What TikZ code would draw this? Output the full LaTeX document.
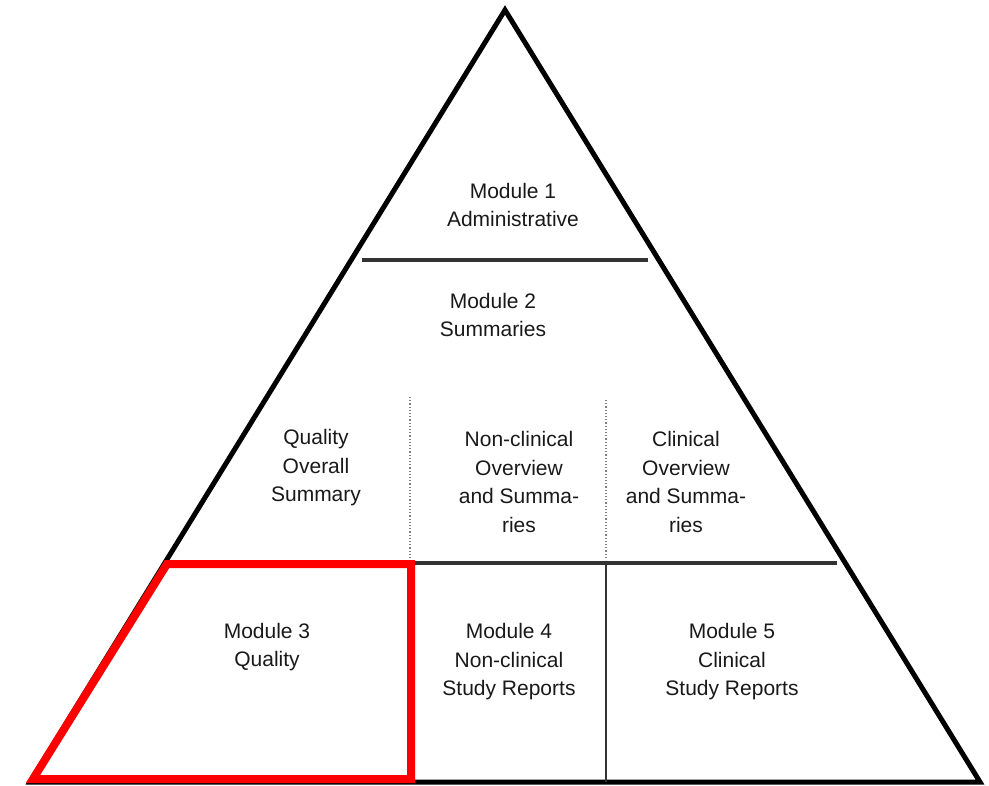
\documentclass[tikz,border=0pt]{standalone}
\usepackage{fontspec}
\setmainfont{Liberation Sans}
\begin{document}
\begin{tikzpicture}[x=1pt,y=-1pt,
  lbl/.style={align=center, inner sep=0pt, text=black!90, font=\fontsize{21}{28.5}\selectfont},
  outline/.style={line width=5pt, line join=miter, black},
  divider/.style={line width=3.2pt, black!80},
  vdivider/.style={line width=2.2pt, black!80},
  dotsep/.style={line width=1.2pt, black!50, dotted},
  highlight/.style={line width=8pt, red, line join=miter}]
\useasboundingbox (0,0) rectangle (989,786);
% corners
\coordinate (apex) at (505,10);
\coordinate (bl) at (30,782);
\coordinate (br) at (980,782);
\coordinate (h1l) at (362,260);
\coordinate (h1r) at (648,260);
\coordinate (h2l) at (412,563);
\coordinate (h2r) at (837,563);
\coordinate (d1t) at (410,397);
\coordinate (d1b) at (410,560);
\coordinate (d2t) at (606,400);
\coordinate (d2b) at (606,560);
\coordinate (v2t) at (606,563);
\coordinate (v2b) at (606,782);
\coordinate (r1) at (167,564);
\coordinate (r2) at (411,564);
\coordinate (r3) at (411,779);
\coordinate (r4) at (33,779);
% triangle
\draw[outline] (bl) -- (apex) -- (br) -- cycle;
% dividers
\draw[divider] (h1l) -- (h1r);
\draw[divider] (h2l) -- (h2r);
\draw[dotsep] (d1t) -- (d1b);
\draw[dotsep] (d2t) -- (d2b);
\draw[vdivider] (v2t) -- (v2b);
% highlight
\draw[highlight] (r1) -- (r2) -- (r3) -- (r4) -- cycle;
% labels
\node[lbl] (m1) at (513,205) {Module 1\\Administrative};
\node[lbl] (m2) at (493,315) {Module 2\\Summaries};
\node[lbl] (qos) at (316,468) {Quality\\Overall\\Summary};
\node[lbl] (nco) at (519,482) {Non-clinical\\Overview\\and Summa-\\ries};
\node[lbl] (co) at (686,482) {Clinical\\Overview\\and Summa-\\ries};
\node[lbl] (m3) at (267,647) {Module 3\\Quality};
\node[lbl] (m4) at (509,662) {Module 4\\Non-clinical\\Study Reports};
\node[lbl] (m5) at (732,662) {Module 5\\Clinical\\Study Reports};
\end{tikzpicture}
\end{document}
